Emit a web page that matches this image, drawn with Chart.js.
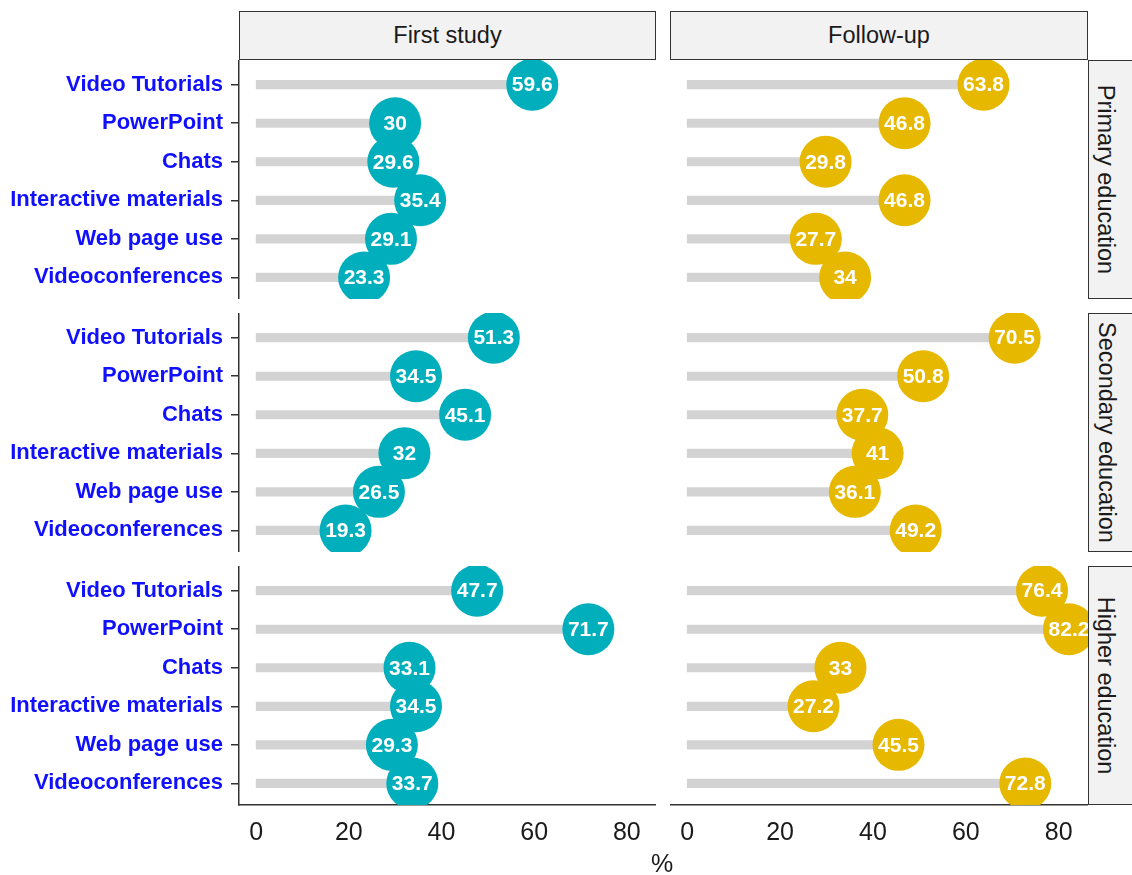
<!DOCTYPE html>
<html>
<head>
<meta charset="utf-8">
<script src="https://cdn.jsdelivr.net/npm/chart.js@4.4.1/dist/chart.umd.min.js"></script>
<style>
  body { margin:0; width:1132px; height:875px; overflow:hidden; background:#fff; position:relative;
         font-family:"Liberation Sans", Arial, sans-serif; }
  canvas { position:absolute; }
  .strip { position:absolute; box-sizing:border-box; background:#f2f2f2; border:1.5px solid #333;
           color:#1a1a1a; font-size:23.5px; display:flex; align-items:center; justify-content:center; z-index:2; }
  .strip span { white-space:nowrap; }
  .side { padding-right:14px; }
  .side span { transform:rotate(90deg); }
  .lab { position:absolute; font-size:25px; line-height:30px; color:#1a1a1a; }
</style>
</head>
<body>
<div id="root"></div>
<div class="lab" style="left:651px; top:848px;">%</div>
<script>
// Категории и данные (сверху вниз)
const categories = ['Video Tutorials', 'PowerPoint', 'Chats', 'Interactive materials', 'Web page use', 'Videoconferences'];
const studies = ['First study', 'Follow-up'];
const levels = ['Primary education', 'Secondary education', 'Higher education'];

const firstPrimary   = [59.6, 30, 29.6, 35.4, 29.1, 23.3];
const firstSecondary = [51.3, 34.5, 45.1, 32, 26.5, 19.3];
const firstHigher    = [47.7, 71.7, 33.1, 34.5, 29.3, 33.7];

const followPrimary   = [63.8, 46.8, 29.8, 46.8, 27.7, 34];
const followSecondary = [70.5, 50.8, 37.7, 41, 36.1, 49.2];
const followHigher    = [76.4, 82.2, 33, 27.2, 45.5, 72.8];

const xTicks = [0, 20, 40, 60, 80];

// Раскладка панелей
const panelTop = [60, 313, 566];
const panelH = 239;
const colLeft = [239, 670];
const colRight = [656, 1088];
const colors = ['#00AFBB', '#E7B800'];
const grid = [
  [firstPrimary, firstSecondary, firstHigher],
  [followPrimary, followSecondary, followHigher]
];

const root = document.getElementById('root');

// Подписи значений внутри кружков
const valueLabels = {
  id: 'valueLabels',
  afterDatasetsDraw(chart) {
    const {ctx, chartArea: a} = chart;
    const meta = chart.getDatasetMeta(0);
    const ds = chart.data.datasets[0];
    ctx.save();
    ctx.beginPath();
    ctx.rect(a.left, a.top, a.right - a.left, a.bottom - a.top);
    ctx.clip();
    ctx.font = 'bold 21px "Liberation Sans", Arial, sans-serif';
    ctx.fillStyle = '#ffffff';
    ctx.textAlign = 'center';
    ctx.textBaseline = 'middle';
    meta.data.forEach((pt, i) => ctx.fillText(String(ds.data[i].x), pt.x, pt.y + 1));
    ctx.restore();
  }
};

function makePanel(col, row) {
  const values = grid[col][row];
  const showY = col === 0;
  const showX = row === 2;
  const left = showY ? 0 : colLeft[col];
  const width = colRight[col] - left;
  const height = panelH + (showX ? 60 : 0);

  const cv = document.createElement('canvas');
  cv.width = width; cv.height = height;
  cv.style.left = left + 'px';
  cv.style.top = panelTop[row] + 'px';
  root.appendChild(cv);

  new Chart(cv.getContext('2d'), {
    type: 'bar',
    data: {
      datasets: [
        {
          type: 'scatter',
          data: values.map((v, i) => ({x: v, y: i + 1})),
          backgroundColor: colors[col],
          pointRadius: 26,
          pointHoverRadius: 26,
          borderWidth: 0,
          clip: 0
        },
        {
          type: 'bar',
          indexAxis: 'y',
          data: values.map((v, i) => ({x: v, y: i + 1})),
          backgroundColor: '#d3d3d3',
          barThickness: 8.5,
          borderWidth: 0
        }
      ]
    },
    options: {
      responsive: false,
      devicePixelRatio: 1,
      animation: false,
      events: [],
      layout: { padding: 0, autoPadding: false },
      plugins: { legend: { display: false }, tooltip: { enabled: false } },
      scales: {
        x: {
          type: 'linear',
          min: -3.7,
          max: 86.3,
          offset: false,
          display: showX,
          afterBuildTicks: s => { s.ticks = xTicks.map(v => ({value: v})); },
          afterFit: s => { if (showX) s.height = 60; s.paddingLeft = 0; s.paddingRight = 0; },
          grid: { display: false, drawTicks: false, offset: false },
          border: { display: true, color: '#333', width: 1.5 },
          ticks: { color: '#1a1a1a', padding: 13, maxRotation: 0,
                   font: { family: '"Liberation Sans", Arial, sans-serif', size: 25 } }
        },
        y: {
          type: 'linear',
          min: 0.36,
          max: 6.56,
          offset: false,
          reverse: true,
          display: showY,
          afterBuildTicks: s => { s.ticks = categories.map((c, i) => ({value: i + 1})); },
          afterFit: s => { if (showY) s.width = 239; s.paddingTop = 0; s.paddingBottom = 0; },
          grid: { display: true, offset: false, drawOnChartArea: false, drawTicks: true, tickLength: 8, color: '#333', lineWidth: 1.5 },
          border: { display: true, color: '#333', width: 1.5 },
          ticks: {
            color: '#1010ff',
            padding: 8,
            autoSkip: false,
            font: { family: '"Liberation Sans", Arial, sans-serif', size: 22, weight: 'bold' },
            callback: v => categories[v - 1]
          }
        }
      }
    },
    plugins: [valueLabels]
  });
}

for (let c = 0; c < 2; c++) {
  for (let r = 0; r < 3; r++) makePanel(c, r);
}

// Полосы фасетов
studies.forEach((s, c) => {
  const d = document.createElement('div');
  d.className = 'strip';
  d.style.left = colLeft[c] + 'px';
  d.style.top = '11px';
  d.style.width = (colRight[c] - colLeft[c]) + 'px';
  d.style.height = '49px';
  d.innerHTML = '<span>' + s + '</span>';
  document.body.appendChild(d);
});
levels.forEach((l, r) => {
  const d = document.createElement('div');
  d.className = 'strip side';
  d.style.left = '1088px';
  d.style.top = panelTop[r] + 'px';
  d.style.width = '50px';
  d.style.height = panelH + 'px';
  d.innerHTML = '<span>' + l + '</span>';
  document.body.appendChild(d);
});
</script>
</body>
</html>
